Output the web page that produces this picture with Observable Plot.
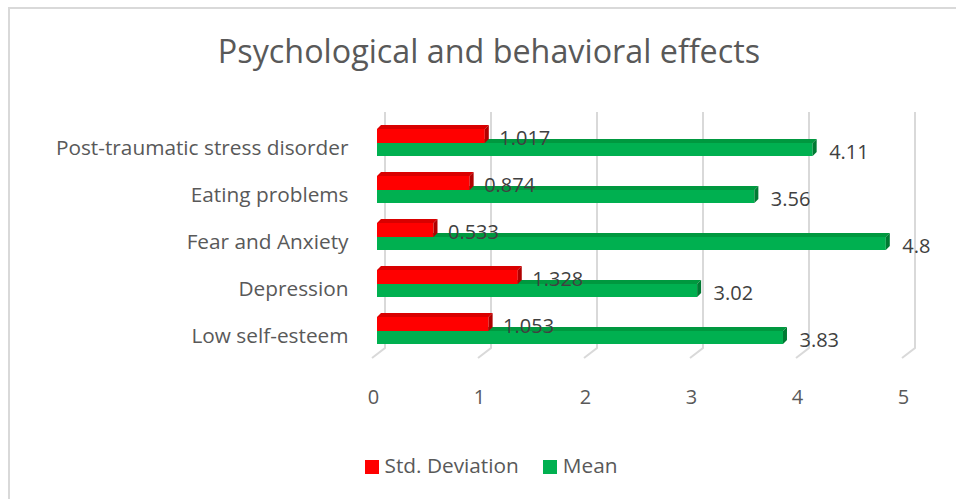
<!DOCTYPE html>
<html>
<head>
<meta charset="utf-8">
<script src="https://cdn.jsdelivr.net/npm/d3@7"></script>
<script src="https://cdn.jsdelivr.net/npm/@observablehq/plot@0.6"></script>
<style>
  html, body { margin: 0; padding: 0; background: #fff; }
  #wrap { position: relative; width: 956px; height: 499px; overflow: hidden; font-family: "Open Sans", sans-serif; color: #595959; }
  #border { position: absolute; left: 8px; top: 7px; width: 960px; height: 500px; border-left: 2px solid #d9d9d9; border-top: 2px solid #d9d9d9; }
  #title { position: absolute; left: 0; width: 978px; top: 28px; text-align: center; font-size: 32.3px; color: #595959; }
  #chart { position: absolute; left: 0; top: 90px; }
  #legend { position: absolute; left: 0; width: 982px; top: 451px; text-align: center; font-size: 20.8px; color: #595959; }
  .sw { display: inline-block; width: 14px; height: 14px; margin-right: 6px; vertical-align: -1px; }
  .item { display: inline-block; margin: 0 12px; }
</style>
</head>
<body>
<div id="wrap">
  <div id="border"></div>
  <div id="title">Psychological and behavioral effects</div>
  <div id="chart"></div>
  <div id="legend"></div>
</div>
<script>
const categories = ["Post-traumatic stress disorder", "Eating problems", "Fear and Anxiety", "Depression", "Low self-esteem"];
const stdDeviation = [1.017, 0.874, 0.533, 1.328, 1.053];
const meanValues = [4.11, 3.56, 4.8, 3.02, 3.83];
const seriesNames = ["Std. Deviation", "Mean"];
const seriesColors = ["#ff0000", "#00b050"];
const xTicks = [0, 1, 2, 3, 4, 5];

const rows = categories.map((c, i) => ({cat: c, std: stdDeviation[i], mean: meanValues[i]}));

const FONT = "Open Sans";
const FS = 20;
const FS_CAT = 20.8;

function shade3D(topColor, sideColor) {
  return (index, scales, values, dims, context, next) => {
    const g = next(index, scales, values, dims, context);
    const d = 4;
    d3.select(g).selectAll("rect").each(function () {
      const r = d3.select(this);
      const x = +r.attr("x"), y = +r.attr("y"), w = +r.attr("width"), h = +r.attr("height");
      const parent = d3.select(this.parentNode);
      parent.append("polygon")
        .attr("points", `${x},${y} ${x + w},${y} ${x + w + d},${y - d} ${x + d},${y - d}`)
        .attr("fill", topColor);
      parent.append("polygon")
        .attr("points", `${x + w},${y} ${x + w + d},${y - d} ${x + w + d},${y + h - d} ${x + w},${y + h}`)
        .attr("fill", sideColor);
    });
    return g;
  };
}

function grid3D(index, scales, values, dims, context) {
  const g = d3.create("svg:g");
  const top = dims.marginTop - 6;
  const bottom = dims.height - dims.marginBottom - 6;
  for (const i of index) {
    const x = values.x[i];
    g.append("path")
      .attr("d", `M${x + 8},${top} L${x + 8},${bottom} L${x - 5},${bottom + 10}`)
      .attr("fill", "none")
      .attr("stroke", "#d9d9d9")
      .attr("stroke-width", 2);
  }
  return g.node();
}

const chart = Plot.plot({
  width: 956,
  height: 320,
  marginLeft: 377,
  marginRight: 49,
  marginTop: 28,
  marginBottom: 56,
  style: {fontFamily: FONT, fontSize: FS + "px", color: "#595959", background: "transparent"},
  x: {domain: [0, 5], label: null},
  y: {domain: categories, paddingInner: 0.4286, paddingOuter: 0.2143, label: null},
  marks: [
    Plot.ruleX(xTicks, {x: d => d, render: grid3D}),
    Plot.barX(rows, {x: "mean", y: "cat", fill: seriesColors[1], insetTop: 14, render: shade3D("#00983f", "#007a33")}),
    Plot.barX(rows, {x: "std", y: "cat", fill: seriesColors[0], insetBottom: 13, render: shade3D("#d90000", "#b00000")}),
    Plot.text(rows, {x: "std", y: "cat", text: d => String(d.std), dx: 14, dy: -4, textAnchor: "start", fill: "#404040", fontSize: FS, fontFamily: FONT}),
    Plot.text(rows, {x: "mean", y: "cat", text: d => String(d.mean), dx: 16, dy: 9.5, textAnchor: "start", fill: "#404040", fontSize: FS, fontFamily: FONT}),
    Plot.axisY({tickSize: 0, tickPadding: 29, dy: 5, fontSize: FS_CAT, fontFamily: FONT, fill: "#595959", label: null}),
    Plot.axisX({ticks: xTicks, tickFormat: d => String(d), tickSize: 0, tickPadding: 35, dx: -4, fontSize: FS, fontFamily: FONT, fill: "#595959", label: null})
  ]
});
document.getElementById("chart").appendChild(chart);

const legend = document.getElementById("legend");
seriesNames.forEach((n, i) => {
  const it = document.createElement("span");
  it.className = "item";
  const sw = document.createElement("span");
  sw.className = "sw";
  sw.style.background = seriesColors[i];
  it.appendChild(sw);
  it.appendChild(document.createTextNode(n));
  legend.appendChild(it);
});
</script>
</body>
</html>
